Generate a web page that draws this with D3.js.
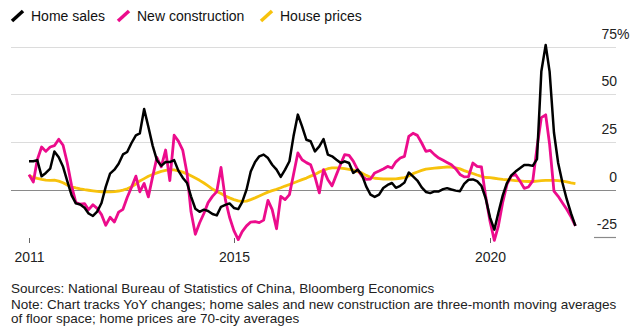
<!DOCTYPE html>
<html>
<head>
<meta charset="utf-8">
<script src="https://cdn.jsdelivr.net/npm/d3@7"></script>
<style>
  body { margin: 0; background: #fff; }
  text { font-family: "Liberation Sans", Arial, Helvetica, sans-serif; }
</style>
</head>
<body>
<svg id="chart" width="632" height="335"></svg>
<script>
// YoY change (%), monthly, Jan 2011 – Sep 2021
const homeSales = [
  14.9, 14.9, 15.5, 7, 8.8, 11, 20, 17, 12, 4.5,
  -3, -7.2, -7.8, -9.5, -12.5, -13.8, -11.5, -7, 1.5, 8.4,
  10.5, 13.6, 18.5, 19.8, 24.5, 28.5, 29.5, 42.3, 33, 23,
  15.5, 12.5, 14.5, 14.5, 15.5, 10, 6.3, 3.5, -3.5, -10,
  -11.6, -10.5, -11.2, -12.8, -13.5, -9, -8, -7.2, -9.6, -10.2,
  -6.5, 0, 9.5, 14.5, 17.5, 18.4, 16.6, 13.1, 10.5, 6.7,
  10.5, 14.9, 28, 39.4, 33.2, 26.2, 25.4, 20.1, 22.7, 26.6,
  18.4, 17.5, 15.7, 14, 14.9, 14, 8.8, 10.5, 7.9, 1.7,
  -2.6, -3.8, -2.6, 0.9, 2.5, 3.5, 1, 2, 3.7, 9,
  7, 4.8, 1.2, -1.2, -1.8, -0.9, -0.9, 0.3, 0.8, 0.1,
  -0.5, -0.8, 3, 5.2, 5.4, 4.5, 2, -4.5, -14.5, -21,
  -12, -3, 3.5, 7.5, 9.5, 11.2, 13, 13, 12.5, 16,
  62, 76, 62, 30, 14, 3.5, -5, -12.5, -19
];

const newConstruction = [
  7.9, 4, 15.7, 22.4, 20.1, 22.4, 23.1, 26.5, 23.3, 14,
  2, -6.8, -7.6, -7.3, -10.5, -7.9, -9.8, -13.1, -18.7, -14.5,
  -17, -11.8, -10.3, -4.1, 1.3, 7.1, -1.1, 3.3, -3.8, 7,
  16.9, 12, 20.8, 4.8, 28.6, 25.5, 20.8, 8.5, -11.5, -23.4,
  -17.5, -12.5, -6.8, -3.5, -1, 11.7, -5.2, -14.5, -21.5, -26.2,
  -22, -19, -17, -16.8, -17.3, -16, -5.6, -10.5, -20.5, -3.5,
  -5.2, -2.6, 8, 19.3, 15.7, 14.2, 13.1, 6.7, -1.7, 10.5,
  5.2, 2, 7.9, 13.6, 18.4, 18, 15, 10.5, 7.2, 5.4,
  5.6, 8.8, 9.8, 10.9, 12.2, 11.4, 14.6, 16.6, 17.5, 28,
  29.6, 28.5, 24.5, 20.1, 20.6, 18.4, 16.6, 15.4, 14.3, 13.1,
  11, 8, 6.7, 6.9, 14, 12.2, 11.9, -3.5, -16.6, -26.6,
  -19, -6.5, 2.8, 7.2, 8, 4.6, 0.7, 1.4, 4.6, 22,
  37.8, 39.3, 23.8, -0.8, -3.5, -7, -10.3, -14.3, -19
];

const housePrices = [
  7.3, 6.5, 5.9, 5.4, 5.0, 4.9, 5.0, 4.5, 3.6, 2.4,
  1.5, 0.9, 0.4, 0, -0.3, -0.6, -0.9, -1.1, -1.2, -1.2,
  -1.0, -0.7, -0.2, 0.5, 1.5, 3, 4.6, 5.8, 7, 8,
  8.8, 9.6, 10.1, 10.5, 10.4, 9.9, 9.2, 8.3, 7.3, 6.1,
  4.9, 3.5, 2, 0.3, -0.9, -2, -3.3, -4.3, -5.2, -5.9,
  -6.1, -6, -5.2, -4.3, -3.3, -2.3, -1.3, -0.5, 0.2, 1,
  1.9, 2.7, 3.5, 4.4, 5.3, 6.1, 7.1, 8, 9.3, 10.2,
  11, 11.4, 11.4, 11.3, 11, 10.7, 10.3, 9.5, 8.8, 7.5,
  6.5, 6.0, 5.8, 5.6, 5.6, 5.6, 5.7, 6, 6.3, 7.2,
  8.4, 9.3, 10.1, 10.8, 11.1, 11.3, 11.5, 11.7, 11.9, 11.9,
  11.5, 10.9, 10, 9.2, 8.5, 7.7, 7, 6.4, 6.3, 6,
  5.7, 5.4, 5.2, 5, 4.8, 4.6, 4.4, 4.3, 4.3, 4.5,
  4.7, 4.9, 4.9, 4.9, 4.8, 4.5, 4.1, 3.6, 3.2
];

const yTickValues = [-25, 0, 25, 50, 75];
const xTickYears = [2011, 2015, 2020];

const seriesNames = ["Home sales", "New construction", "House prices"];
const seriesColors = ["#000000", "#ec0c8c", "#f7c20c"];

const months = d3.timeMonth.range(new Date(2011, 0, 1), new Date(2021, 9, 1));

const svg = d3.select("#chart");

const x = d3.scaleTime()
  .domain([new Date(2011, 0, 1), new Date(2020, 0, 1)])
  .range([29, 490]);

const y = d3.scaleLinear()
  .domain([-25, 75])
  .range([237.3, 46.8]);

const gridLeft = 11, gridRight = 616;

// horizontal gridlines
const grid = svg.append("g");
yTickValues.forEach(v => {
  const yy = Math.round(y(v)) + 0.5;
  if (v === -25) {
    grid.append("line").attr("x1", 594).attr("x2", gridRight)
      .attr("y1", yy).attr("y2", yy).attr("stroke", "#8a8a8a").attr("stroke-width", 1.2);
  } else {
    grid.append("line").attr("x1", gridLeft).attr("x2", gridRight)
      .attr("y1", yy).attr("y2", yy)
      .attr("stroke", v === 0 ? "#8a8a8a" : "#dcdcdc")
      .attr("stroke-width", v === 0 ? 1.2 : 1);
  }
});

// y-axis labels, sitting above their gridlines at the right edge
const yLabels = svg.append("g").attr("font-size", 14).attr("fill", "#222");
yTickValues.forEach(v => {
  const yy = y(v) - 8;
  yLabels.append("text").attr("x", 617).attr("y", yy)
    .attr("text-anchor", "end").text(v);
  if (v === 75) {
    yLabels.append("text").attr("x", 617).attr("y", yy).text("%");
  }
});

// x-axis ticks and year labels
const xAxis = svg.append("g");
xTickYears.forEach(yr => {
  const xx = Math.round(x(new Date(yr, 0, 1))) + 0.5;
  xAxis.append("line").attr("x1", xx).attr("x2", xx)
    .attr("y1", 238).attr("y2", 243).attr("stroke", "#666").attr("stroke-width", 1);
  xAxis.append("text").attr("x", xx).attr("y", 262)
    .attr("text-anchor", "middle").attr("font-size", 14).attr("fill", "#222")
    .text(yr);
});

// series lines: house prices underneath, then new construction, home sales on top
const line = d3.line()
  .x((d, i) => x(months[i]))
  .y(d => y(d));

const drawOrder = [
  { values: housePrices, color: seriesColors[2], width: 2.8 },
  { values: newConstruction, color: seriesColors[1], width: 2.8 },
  { values: homeSales, color: seriesColors[0], width: 2.5 }
];
drawOrder.forEach(s => {
  svg.append("path")
    .datum(s.values)
    .attr("d", line)
    .attr("fill", "none")
    .attr("stroke", s.color)
    .attr("stroke-width", s.width)
    .attr("stroke-linejoin", "round")
    .attr("stroke-linecap", "butt");
});

// legend
const legendX = [12, 118, 261];
const legend = svg.append("g");
seriesNames.forEach((name, i) => {
  const lx = legendX[i];
  legend.append("line")
    .attr("x1", lx).attr("y1", 21).attr("x2", lx + 11).attr("y2", 11)
    .attr("stroke", seriesColors[i]).attr("stroke-width", 3.5);
  legend.append("text")
    .attr("x", lx + 19).attr("y", 21)
    .attr("font-size", 14).attr("fill", "#111")
    .text(name);
});

// source and note
const notes = [
  "Sources: National Bureau of Statistics of China, Bloomberg Economics",
  "Note: Chart tracks YoY changes; home sales and new construction are three-month moving averages",
  "of floor space; home prices are 70-city averages"
];
const noteY = [293, 309, 323];
notes.forEach((t, i) => {
  svg.append("text").attr("x", 11).attr("y", noteY[i])
    .attr("font-size", 13.5).attr("fill", "#222").text(t);
});
</script>
</body>
</html>
